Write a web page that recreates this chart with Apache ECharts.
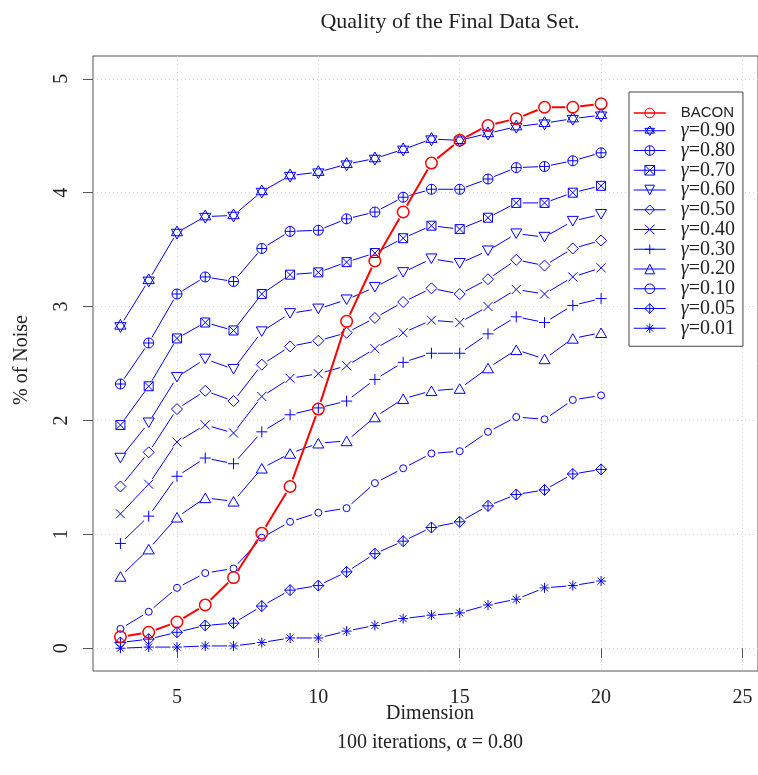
<!DOCTYPE html>
<html>
<head>
<meta charset="utf-8">
<script src="https://cdn.jsdelivr.net/npm/echarts@6/dist/echarts.min.js"></script>
<style>html,body{margin:0;padding:0;background:#fff}#c{width:758px;height:775px}</style>
</head>
<body>
<div id="c"></div>
<script>
// ---- data ----
const dims = [3,4,5,6,7,8,9,10,11,12,13,14,15,16,17,18,19,20];
const xTicks = [5,10,15,20,25];
const yTicks = [0,1,2,3,4,5];
const seriesNames = ['BACON','γ=0.90','γ=0.80','γ=0.70','γ=0.60','γ=0.50','γ=0.40','γ=0.30','γ=0.20','γ=0.10','γ=0.05','γ=0.01'];
const bacon = [0.10,0.14,0.23,0.38,0.62,1.01,1.42,2.10,2.87,3.40,3.83,4.26,4.46,4.59,4.65,4.75,4.75,4.78];
const g90 = [2.83,3.23,3.65,3.79,3.80,4.01,4.15,4.18,4.25,4.30,4.38,4.47,4.46,4.52,4.58,4.61,4.65,4.68];
const g80 = [2.32,2.68,3.11,3.26,3.22,3.51,3.66,3.67,3.77,3.83,3.96,4.03,4.03,4.12,4.22,4.23,4.28,4.35];
const g70 = [1.96,2.30,2.72,2.86,2.79,3.11,3.28,3.30,3.39,3.47,3.60,3.71,3.68,3.78,3.91,3.91,4.00,4.06];
const g60 = [1.67,1.98,2.38,2.54,2.45,2.78,2.94,2.98,3.06,3.17,3.30,3.42,3.38,3.49,3.64,3.61,3.75,3.81];
const g50 = [1.42,1.72,2.10,2.26,2.17,2.49,2.65,2.70,2.77,2.90,3.04,3.16,3.11,3.24,3.41,3.36,3.51,3.58];
const g40 = [1.18,1.44,1.81,1.96,1.89,2.21,2.37,2.41,2.48,2.63,2.77,2.88,2.86,3.00,3.15,3.11,3.26,3.34];
const g30 = [0.92,1.16,1.51,1.67,1.62,1.90,2.05,2.11,2.17,2.36,2.51,2.59,2.59,2.76,2.91,2.86,3.01,3.07];
const g20 = [0.63,0.87,1.15,1.32,1.29,1.58,1.71,1.80,1.82,2.03,2.19,2.26,2.28,2.46,2.62,2.54,2.72,2.77];
const g10 = [0.17,0.32,0.53,0.66,0.70,0.97,1.11,1.19,1.23,1.45,1.58,1.71,1.73,1.90,2.03,2.01,2.18,2.22];
const g05 = [0.05,0.08,0.14,0.20,0.22,0.37,0.51,0.55,0.67,0.83,0.94,1.06,1.11,1.25,1.35,1.39,1.53,1.57];
const g01 = [0.00,0.01,0.01,0.02,0.02,0.05,0.09,0.09,0.15,0.20,0.26,0.29,0.31,0.38,0.43,0.53,0.55,0.59];
const allValues = [bacon,g90,g80,g70,g60,g50,g40,g30,g20,g10,g05,g01];

// ---- styling ----
const RED = '#ff0000', BLUE = '#0000ff';
const SERIF = 'Liberation Serif';
const symbols = [
  'path://M-10,0A10,10 0 1,0 10,0A10,10 0 1,0 -10,0Z',
  'path://M0,-10L8.66,5L-8.66,5ZM0,10L8.66,-5L-8.66,-5Z',
  'path://M-10,0A10,10 0 1,0 10,0A10,10 0 1,0 -10,0ZM-10,0L10,0M0,-10L0,10',
  'path://M-10,-10L10,-10L10,10L-10,10ZM-10,-10L10,10M10,-10L-10,10',
  'path://M-10,-8L10,-8L0,9.3Z',
  'path://M0,-10L10,0L0,10L-10,0Z',
  'path://M-10,-10L10,10M10,-10L-10,10',
  'path://M-10,0L10,0M0,-10L0,10',
  'path://M0,-9.3L10,8L-10,8Z',
  'path://M-10,0A10,10 0 1,0 10,0A10,10 0 1,0 -10,0Z',
  'path://M0,-10L10,0L0,10L-10,0ZM-10,0L10,0M0,-10L0,10',
  'path://M-10,0L10,0M0,-10L0,10M-7,-7L7,7M7,-7L-7,7'
];
const sizes = [11.5,13,10,9,11,11,9,11,11,7,11,10];

function gapSeries(vals, color, width, gap, z) {
  return {
    type: 'custom', silent: true, z: z, animation: false,
    data: dims.map((d, i) => [d, vals[i]]),
    encode: {x: 0, y: 1},
    renderItem: function (params, api) {
      const i = params.dataIndex;
      if (i >= vals.length - 1) return null;
      const a = api.coord([dims[i], vals[i]]);
      const b = api.coord([dims[i + 1], vals[i + 1]]);
      const dx = b[0] - a[0], dy = b[1] - a[1];
      const L = Math.hypot(dx, dy);
      if (L <= 2 * gap) return null;
      const ux = dx / L, uy = dy / L;
      return {
        type: 'line',
        shape: {x1: a[0] + ux * gap, y1: a[1] + uy * gap, x2: b[0] - ux * gap, y2: b[1] - uy * gap},
        style: {stroke: color, lineWidth: width}
      };
    }
  };
}

const series = [];
const legendData = [];
seriesNames.forEach((name, k) => {
  const color = k === 0 ? RED : BLUE;
  const lw = k === 0 ? 2 : 1;
  const z = k === 0 ? 6 : 3;
  series.push(gapSeries(allValues[k], color, lw, k === 0 ? 7.5 : 6.5, z));
  series.push({
    type: 'line', name: name, z: z + 1,
    data: dims.map((d, i) => [d, allValues[k][i]]),
    symbol: symbols[k], symbolSize: sizes[k], symbolKeepAspect: true, showSymbol: true,
    lineStyle: {opacity: 0},
    itemStyle: {color: 'rgba(0,0,0,0)', borderColor: color, borderWidth: k === 0 ? 1.5 : 1},
    emphasis: {disabled: true},
    animation: false
  });
  legendData.push({
    name: name,
    lineStyle: {color: color, width: lw === 2 ? 1.5 : 1, opacity: 1},
    itemStyle: {color: 'rgba(0,0,0,0)', borderColor: color, borderWidth: 1, opacity: 1}
  });
});

const chart = echarts.init(document.getElementById('c'), null, {renderer: 'canvas'});
chart.setOption({
  backgroundColor: '#fff',
  animation: false,
  grid: {left: 93, top: 56, right: 0, height: 615, show: true, borderColor: '#555', borderWidth: 1, backgroundColor: 'transparent'},
  xAxis: {
    type: 'value', min: 2.03, max: 25.55,
    axisLine: {show: false},
    axisTick: {show: true, length: 10, inside: false, lineStyle: {color: '#555'}, customValues: xTicks},
    axisLabel: {customValues: xTicks, margin: 17, color: '#222', fontFamily: SERIF, fontSize: 20},
    splitLine: {show: true, lineStyle: {color: '#d4d4d4', type: [1, 3], width: 1}}
  },
  yAxis: {
    type: 'value', min: -0.2, max: 5.2,
    axisLine: {show: false},
    axisTick: {show: true, length: 10, inside: false, lineStyle: {color: '#555'}, customValues: yTicks},
    axisLabel: {customValues: yTicks, rotate: 90, margin: 21, color: '#222', fontFamily: SERIF, fontSize: 20},
    splitLine: {show: true, lineStyle: {color: '#d4d4d4', type: [1, 3], width: 1}}
  },
  legend: {
    orient: 'vertical', left: 629, top: 92,
    padding: [13, 8, 8, 4],
    itemWidth: 32, itemHeight: 12, itemGap: -0.25,
    backgroundColor: '#fff', borderColor: '#444', borderWidth: 1, borderRadius: 0,
    selectedMode: false,
    data: legendData,
    formatter: function (name) {
      if (name === 'BACON') return '{sp|}{s|BACON}';
      return '{sp|}{g|γ}{m|' + name.slice(1) + '}';
    },
    textStyle: {
      color: '#222', lineHeight: 16,
      rich: {
        sp: {width: 10},
        s: {fontFamily: 'Liberation Sans', fontSize: 15, color: '#222', lineHeight: 16},
        g: {fontFamily: SERIF, fontStyle: 'italic', fontSize: 20, color: '#222', lineHeight: 16},
        m: {fontFamily: SERIF, fontSize: 20, color: '#222', lineHeight: 16}
      }
    }
  },
  graphic: [
    {type: 'text', x: 450, y: 22, style: {text: 'Quality of the Final Data Set.', font: '22px "Liberation Serif"', fill: '#222', textAlign: 'center', textVerticalAlign: 'middle'}},
    {type: 'text', x: 430, y: 714, style: {text: 'Dimension', font: '20px "Liberation Serif"', fill: '#222', textAlign: 'center', textVerticalAlign: 'middle'}},
    {type: 'text', x: 430, y: 743, style: {text: '100 iterations, α = 0.80', font: '20px "Liberation Serif"', fill: '#222', textAlign: 'center', textVerticalAlign: 'middle'}},
    {type: 'text', x: 22, y: 360, rotation: Math.PI / 2, style: {text: '% of Noise', font: '20px "Liberation Serif"', fill: '#222', textAlign: 'center', textVerticalAlign: 'middle'}}
  ],
  series: series
});
</script>
</body>
</html>
